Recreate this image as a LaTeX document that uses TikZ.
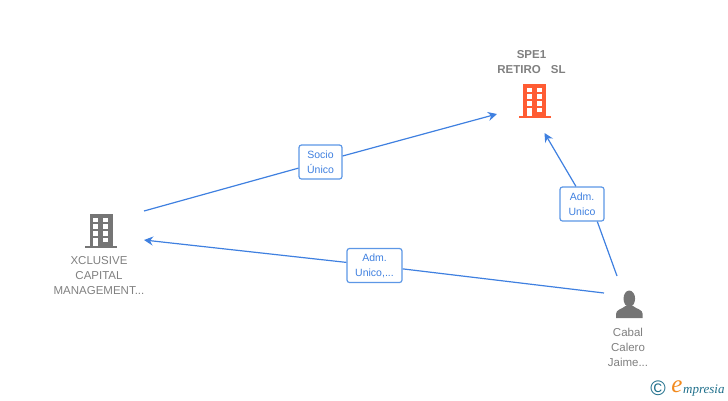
\documentclass[tikz,border=0pt]{standalone}
\usepackage{fontspec}
\setmainfont{Liberation Sans}
\newfontfamily\logofont{Liberation Serif}
\usepackage{tikz}
\usetikzlibrary{arrows.meta}
\definecolor{link_blue}{HTML}{3F80E0}
\definecolor{box_blue}{HTML}{5C97E6}
\definecolor{icon_gray}{HTML}{757575}
\definecolor{icon_orange}{HTML}{FF5C33}
\definecolor{logo_teal}{HTML}{1F6F8B}
\definecolor{logo_orange}{HTML}{F28A1E}
\tikzstyle{node_name} = [align=center, text=gray, inner sep=0pt, font=\fontsize{11.5}{15}\selectfont]
\tikzstyle{node_link} = [draw=box_blue, fill=white, rounded corners=2.5pt, line width=1.2pt, align=center, text=link_blue, inner sep=0pt, minimum height=34pt, font=\fontsize{10.5}{15}\selectfont]
\tikzstyle{edge_link} = [draw=link_blue, line width=1.2pt]
\tikzstyle{edge_arrow} = [edge_link, -{Stealth[length=9pt,width=9pt]}]
% building icon: #1 colour, (#2,#3) top centre
\newcommand{\buildingicon}[3]{
	\fill[#1] (#2-11.5,#3) rectangle (#2+11.5,#3+32);
	\fill[#1] (#2-16,#3+32) rectangle (#2+16,#3+33.5);
	\foreach \wy in {3.7,10.3,17,23.7} {
		\fill[white] (#2-7.8,#3+\wy) rectangle (#2-2.8,#3+\wy+4.6);
		\fill[white] (#2+2.2,#3+\wy) rectangle (#2+7.2,#3+\wy+4.6);
	}
	\fill[white] (#2-7.8,#3+23.7) rectangle (#2-2.8,#3+32);
}
\begin{document}
\begin{tikzpicture}[x=1pt,y=-1pt]
	\useasboundingbox (0,0) rectangle (728,400);
	\buildingicon{icon_orange}{534.5}{84}
	\buildingicon{icon_gray}{101}{214}
	% person
	\fill[icon_gray] (629.3,298.7) ellipse (5.8 and 8.2);
	\fill[icon_gray] (616,318) -- (616,314) .. controls (616,309.5) and (622,309) .. (625.5,306) -- (633,306) .. controls (636.5,309) and (642.7,309.5) .. (642.7,314) -- (642.7,318) -- cycle;

	\node (S) at (531.5,62.5) [node_name] {\textbf{SPE1}\\\textbf{RETIRO\hspace{10pt}SL}};
	\node (X) at (99,275.5) [node_name] {XCLUSIVE\\CAPITAL\\MANAGEMENT...};
	\node (C) at (628,347) [node_name] {Cabal\\Calero\\Jaime...};

	\coordinate (X_out) at (144,211);
	\coordinate (X_in) at (144,240);
	\coordinate (S_left) at (497,114);
	\coordinate (S_down) at (544.5,133);
	\coordinate (C_left) at (604,293);
	\coordinate (C_up) at (617,276);

	\node (L1) at (320.5,162) [node_link, minimum width=43pt] {Socio\\Único};
	\node (L2) at (374.5,265.5) [node_link, minimum width=55pt] {Adm.\\Unico,...};
	\node (L3) at (582,204) [node_link, minimum width=44pt] {Adm.\\Unico};

	\draw[edge_link] (X_out)--(L1);
	\draw[edge_arrow] (L1)--(S_left);
	\draw[edge_link] (C_left)--(L2);
	\draw[edge_arrow] (L2)--(X_in);
	\draw[edge_link] (C_up)--(L3.-49);
	\draw[edge_arrow] (L3.109)--(S_down);

	% logo
	\node (copy) at (658,388.5) [text=logo_teal, inner sep=0pt, font=\fontsize{21}{21}\selectfont] {©};
	\node (logo_e) at (677,387) [text=logo_orange, inner sep=0pt, font=\logofont\itshape\fontsize{25}{25}\selectfont] {e};
	\node (logo) [anchor=base west, text=logo_teal, inner sep=0pt, font=\logofont\itshape\fontsize{13}{13}\selectfont] at (683,393) {mpresia};
\end{tikzpicture}
\end{document}
